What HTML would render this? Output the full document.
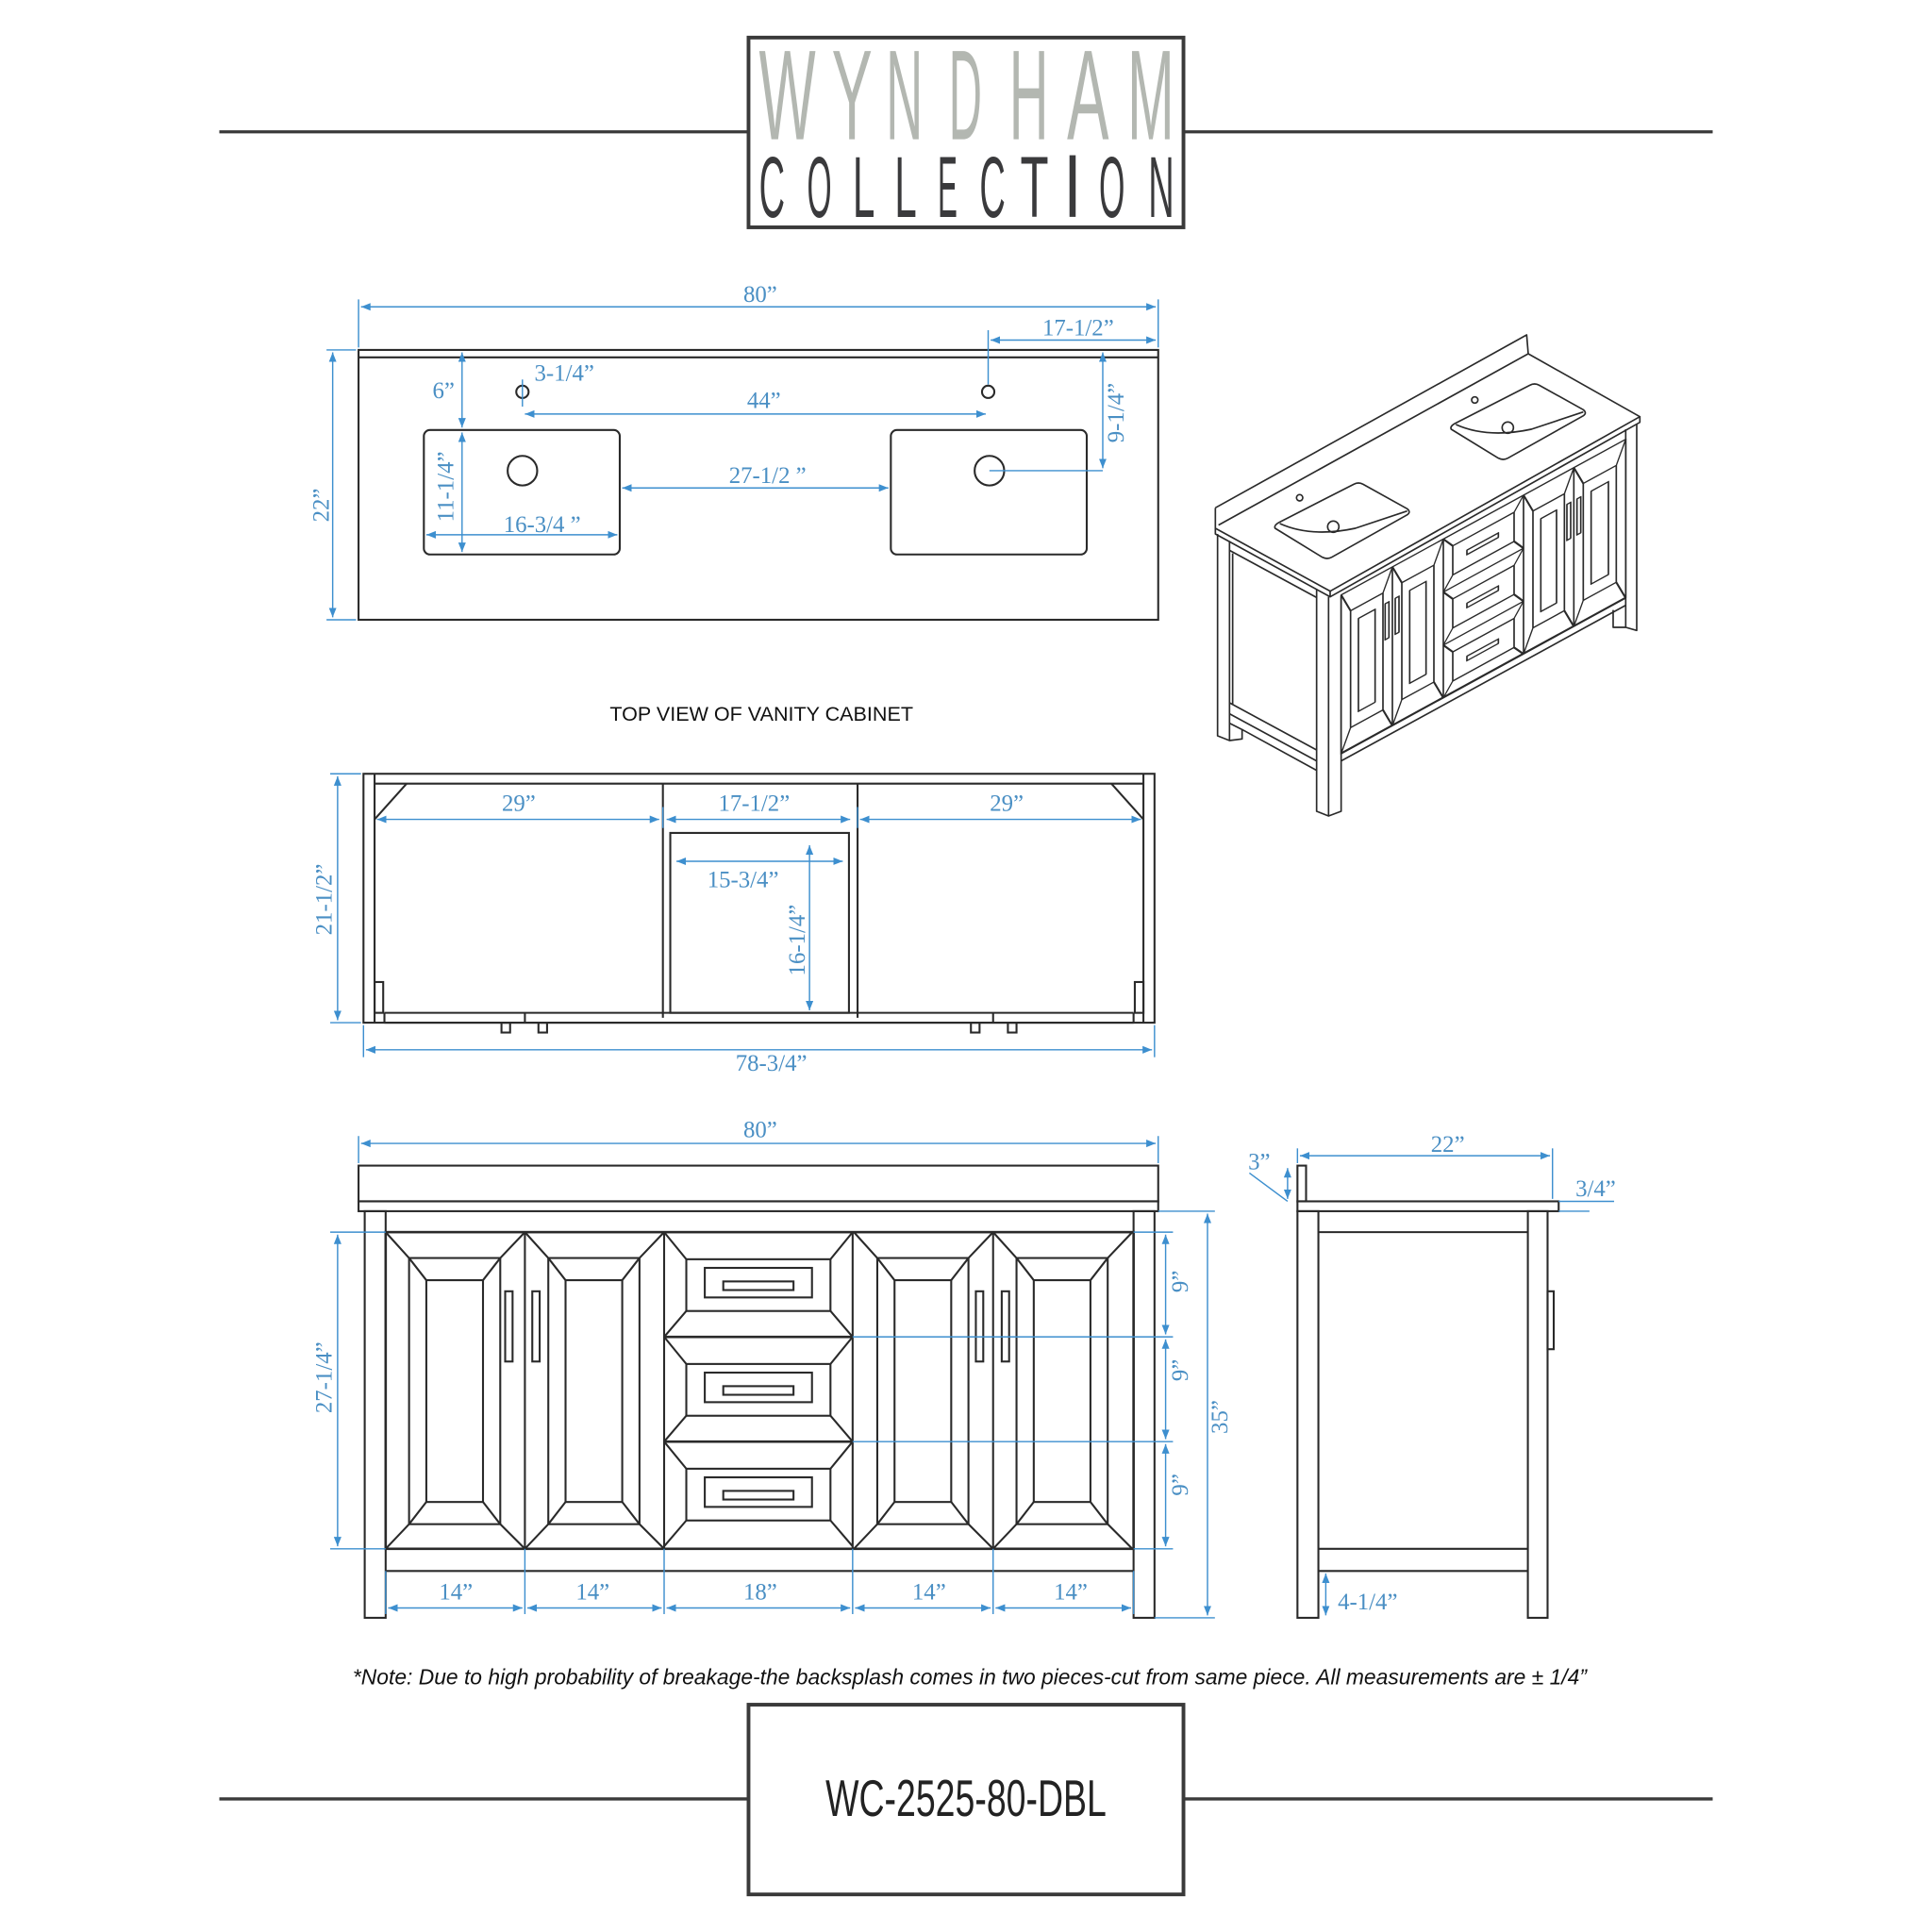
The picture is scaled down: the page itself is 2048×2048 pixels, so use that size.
<!DOCTYPE html>
<html><head><meta charset="utf-8"><style>
html,body{margin:0;padding:0;background:#fff}
svg{display:block}
.k{fill:none;stroke:#2a2a2a;stroke-width:1.6}
.b{fill:none;stroke:#3d8fcf;stroke-width:1.1}
.t{font-family:"Liberation Serif",serif;font-size:19px;fill:#4a8fc4;text-anchor:middle}
.w{font-family:"Liberation Sans Narrow","Liberation Sans",sans-serif;font-size:104px;fill:#b3b7b1}
.c{font-family:"Liberation Sans Narrow","Liberation Sans",sans-serif;font-size:70px;fill:#3a3a3c}
</style></head><body>
<svg width="2048" height="2048" viewBox="0 0 1568 1568" xmlns="http://www.w3.org/2000/svg">
<defs>
<marker id="a" viewBox="0 0 10 10" refX="10" refY="5" markerWidth="7" markerHeight="7" orient="auto-start-reverse"><path d="M0,1 L10,5 L0,9 z" fill="#3d8fcf"/></marker>
</defs>
<rect width="1568" height="1568" fill="#fff"/>
<!-- header -->
<line x1="178" y1="107" x2="607" y2="107" stroke="#3a3a3a" stroke-width="2.5"/>
<line x1="961" y1="107" x2="1390" y2="107" stroke="#3a3a3a" stroke-width="2.5"/>
<rect x="607.5" y="30.5" width="353" height="154" fill="none" stroke="#3a3a3a" stroke-width="3"/>
<g class="w">
<text x="616" y="113" textLength="46" lengthAdjust="spacingAndGlyphs">W</text>
<text x="675" y="113" textLength="33" lengthAdjust="spacingAndGlyphs">Y</text>
<text x="719" y="113" textLength="30" lengthAdjust="spacingAndGlyphs">N</text>
<text x="770" y="113" textLength="27" lengthAdjust="spacingAndGlyphs">D</text>
<text x="819" y="113" textLength="32" lengthAdjust="spacingAndGlyphs">H</text>
<text x="866" y="113" textLength="34" lengthAdjust="spacingAndGlyphs">A</text>
<text x="915" y="113" textLength="38" lengthAdjust="spacingAndGlyphs">M</text>
</g>
<g class="c">
<text x="616" y="176" textLength="21" lengthAdjust="spacingAndGlyphs">C</text>
<text x="655" y="176" textLength="20" lengthAdjust="spacingAndGlyphs">O</text>
<text x="692" y="176" textLength="18" lengthAdjust="spacingAndGlyphs">L</text>
<text x="726" y="176" textLength="18" lengthAdjust="spacingAndGlyphs">L</text>
<text x="761" y="176" textLength="16" lengthAdjust="spacingAndGlyphs">E</text>
<text x="795" y="176" textLength="21" lengthAdjust="spacingAndGlyphs">C</text>
<text x="828" y="176" textLength="23" lengthAdjust="spacingAndGlyphs">T</text>
<rect x="868" y="126" width="5" height="50" fill="#3a3a3c"/>
<text x="892" y="176" textLength="21" lengthAdjust="spacingAndGlyphs">O</text>
<text x="932" y="176" textLength="21" lengthAdjust="spacingAndGlyphs">N</text>
</g>

<!-- TOP VIEW -->
<rect x="291" y="284" width="649" height="219" class="k"/>
<line x1="291" y1="290" x2="940" y2="290" class="k" stroke-width="1"/>
<rect x="344" y="349" width="159" height="101" rx="5" class="k"/>
<rect x="723" y="349" width="159" height="101" rx="5" class="k"/>
<circle cx="424" cy="382" r="12" class="k"/><circle cx="803" cy="382" r="12" class="k"/>
<circle cx="424" cy="318" r="5" class="k"/><circle cx="802" cy="318" r="5" class="k"/>
<g class="b">
<line x1="291" y1="243" x2="291" y2="282"/><line x1="940" y1="243" x2="940" y2="282"/>
<line x1="293" y1="249" x2="938" y2="249" marker-start="url(#a)" marker-end="url(#a)"/>
<line x1="802" y1="268" x2="802" y2="312"/>
<line x1="804" y1="276" x2="938" y2="276" marker-start="url(#a)" marker-end="url(#a)"/>
<line x1="375" y1="286" x2="375" y2="347" marker-start="url(#a)" marker-end="url(#a)"/>
<line x1="424" y1="308" x2="424" y2="330"/>
<line x1="426" y1="336" x2="800" y2="336" marker-start="url(#a)" marker-end="url(#a)"/>
<line x1="895" y1="286" x2="895" y2="380" marker-start="url(#a)" marker-end="url(#a)"/>
<line x1="803" y1="382" x2="895" y2="382"/>
<line x1="265" y1="284" x2="289" y2="284"/><line x1="265" y1="503" x2="289" y2="503"/>
<line x1="270" y1="286" x2="270" y2="501" marker-start="url(#a)" marker-end="url(#a)"/>
<line x1="375" y1="351" x2="375" y2="448" marker-start="url(#a)" marker-end="url(#a)"/>
<line x1="346" y1="434" x2="501" y2="434" marker-start="url(#a)" marker-end="url(#a)"/>
<line x1="505" y1="396" x2="721" y2="396" marker-start="url(#a)" marker-end="url(#a)"/>
</g>
<text class="t" x="617" y="245">80”</text>
<text class="t" x="875" y="272">17-1/2”</text>
<text class="t" x="360" y="323">6”</text>
<text class="t" x="458" y="309">3-1/4”</text>
<text class="t" x="620" y="331">44”</text>
<text class="t" transform="translate(912,335) rotate(-90)">9-1/4”</text>
<text class="t" transform="translate(267,410) rotate(-90)">22”</text>
<text class="t" transform="translate(368,395) rotate(-90)">11-1/4”</text>
<text class="t" x="440" y="432">16-3/4 ”</text>
<text class="t" x="623" y="392">27-1/2 ”</text>
<text x="618" y="585" font-family="Liberation Sans,sans-serif" font-size="16.5" text-anchor="middle" fill="#111">TOP VIEW OF VANITY CABINET</text>

<!-- INTERIOR VIEW -->
<g class="k">
<rect x="295" y="628" width="642" height="202"/>
<line x1="304" y1="628" x2="304" y2="830"/><line x1="928" y1="628" x2="928" y2="830"/>
<line x1="304" y1="636" x2="928" y2="636"/>
<line x1="304" y1="665" x2="330" y2="636"/><line x1="928" y1="665" x2="902" y2="636"/>
<line x1="538" y1="636" x2="538" y2="826"/><line x1="696" y1="636" x2="696" y2="826"/>
<rect x="544" y="676" width="145" height="146"/>
<line x1="312" y1="822" x2="920" y2="822"/>
<line x1="312" y1="830" x2="920" y2="830"/>
<line x1="312" y1="822" x2="312" y2="830"/><line x1="920" y1="822" x2="920" y2="830"/>
<rect x="304" y="797" width="7" height="25"/><rect x="921" y="797" width="7" height="25"/>
<rect x="407" y="830" width="7" height="8"/><rect x="437" y="830" width="7" height="8"/>
<rect x="788" y="830" width="7" height="8"/><rect x="818" y="830" width="7" height="8"/>
<line x1="426" y1="822" x2="426" y2="830"/><line x1="806" y1="822" x2="806" y2="830"/>
</g>
<g class="b">
<line x1="306" y1="665" x2="535" y2="665" marker-start="url(#a)" marker-end="url(#a)"/>
<line x1="541" y1="665" x2="690" y2="665" marker-start="url(#a)" marker-end="url(#a)"/>
<line x1="698" y1="665" x2="926" y2="665" marker-start="url(#a)" marker-end="url(#a)"/>
<line x1="538" y1="655" x2="538" y2="672"/><line x1="696" y1="655" x2="696" y2="672"/>
<line x1="549" y1="699" x2="684" y2="699" marker-start="url(#a)" marker-end="url(#a)"/>
<line x1="657" y1="686" x2="657" y2="820" marker-start="url(#a)" marker-end="url(#a)"/>
<line x1="268" y1="628" x2="293" y2="628"/><line x1="268" y1="830" x2="293" y2="830"/>
<line x1="274" y1="630" x2="274" y2="828" marker-start="url(#a)" marker-end="url(#a)"/>
<line x1="295" y1="832" x2="295" y2="858"/><line x1="937" y1="832" x2="937" y2="858"/>
<line x1="297" y1="852" x2="935" y2="852" marker-start="url(#a)" marker-end="url(#a)"/>
</g>
<text class="t" x="421" y="658">29”</text>
<text class="t" x="612" y="658">17-1/2”</text>
<text class="t" x="817" y="658">29”</text>
<text class="t" x="603" y="720">15-3/4”</text>
<text class="t" transform="translate(653,763) rotate(-90)">16-1/4”</text>
<text class="t" transform="translate(269,730) rotate(-90)">21-1/2”</text>
<text class="t" x="626" y="869">78-3/4”</text>

<!-- FRONT VIEW -->
<g class="k">
<rect x="291" y="946" width="649" height="29"/>
<rect x="291" y="975" width="649" height="8"/>
<rect x="296" y="983" width="17" height="330"/>
<rect x="920" y="983" width="17" height="330"/>
<line x1="313" y1="1275" x2="920" y2="1275"/>
<rect x="313" y="1000" width="607" height="257" stroke-width="2"/>
<line x1="426" y1="1000" x2="426" y2="1257"/><line x1="539" y1="1000" x2="539" y2="1257"/>
<line x1="692" y1="1000" x2="692" y2="1257"/><line x1="806" y1="1000" x2="806" y2="1257"/>
<line x1="539" y1="1085" x2="692" y2="1085" stroke-width="2"/><line x1="539" y1="1170" x2="692" y2="1170" stroke-width="2"/>
</g>
<g class="k" stroke-width="1.3">
<g id="door">
<rect x="332" y="1021" width="74" height="216"/><rect x="346" y="1039" width="46" height="180"/>
<path d="M313,1000 L332,1021 M426,1000 L406,1021 M313,1257 L332,1237 M426,1257 L406,1237 M332,1021 L346,1039 M406,1021 L392,1039 M332,1237 L346,1219 M406,1237 L392,1219"/>
</g>
<use href="#door" x="113"/>
<use href="#door" x="380"/>
<use href="#door" x="493"/>
<rect x="410" y="1048" width="6" height="57"/><rect x="432" y="1048" width="6" height="57"/>
<rect x="792" y="1048" width="6" height="57"/><rect x="813" y="1048" width="6" height="57"/>
<g id="drw">
<rect x="557" y="1022" width="117" height="42"/>
<rect x="572" y="1029" width="87" height="24"/><rect x="587" y="1040" width="57" height="7"/>
<path d="M539,1000 L557,1022 M692,1000 L674,1022 M539,1085 L557,1064 M692,1085 L674,1064"/>
</g>
<use href="#drw" y="85"/>
<use href="#drw" y="170"/>
</g>
<g class="b">
<line x1="291" y1="922" x2="291" y2="944"/><line x1="940" y1="922" x2="940" y2="944"/>
<line x1="293" y1="928" x2="938" y2="928" marker-start="url(#a)" marker-end="url(#a)"/>
<line x1="268" y1="1000" x2="313" y2="1000"/><line x1="268" y1="1257" x2="313" y2="1257"/>
<line x1="274" y1="1002" x2="274" y2="1255" marker-start="url(#a)" marker-end="url(#a)"/>
<line x1="692" y1="1085" x2="952" y2="1085"/><line x1="692" y1="1170" x2="952" y2="1170"/>
<line x1="920" y1="1000" x2="952" y2="1000"/><line x1="920" y1="1257" x2="952" y2="1257"/>
<line x1="940" y1="983" x2="986" y2="983"/><line x1="937" y1="1313" x2="986" y2="1313"/>
<line x1="946" y1="1002" x2="946" y2="1083" marker-start="url(#a)" marker-end="url(#a)"/>
<line x1="946" y1="1087" x2="946" y2="1168" marker-start="url(#a)" marker-end="url(#a)"/>
<line x1="946" y1="1172" x2="946" y2="1255" marker-start="url(#a)" marker-end="url(#a)"/>
<line x1="980" y1="985" x2="980" y2="1311" marker-start="url(#a)" marker-end="url(#a)"/>
<line x1="313" y1="1275" x2="313" y2="1310"/><line x1="426" y1="1257" x2="426" y2="1310"/>
<line x1="539" y1="1257" x2="539" y2="1310"/><line x1="692" y1="1257" x2="692" y2="1310"/>
<line x1="806" y1="1257" x2="806" y2="1310"/><line x1="920" y1="1275" x2="920" y2="1310"/>
<line x1="315" y1="1305" x2="424" y2="1305" marker-start="url(#a)" marker-end="url(#a)"/>
<line x1="428" y1="1305" x2="537" y2="1305" marker-start="url(#a)" marker-end="url(#a)"/>
<line x1="541" y1="1305" x2="690" y2="1305" marker-start="url(#a)" marker-end="url(#a)"/>
<line x1="694" y1="1305" x2="804" y2="1305" marker-start="url(#a)" marker-end="url(#a)"/>
<line x1="808" y1="1305" x2="918" y2="1305" marker-start="url(#a)" marker-end="url(#a)"/>
</g>
<text class="t" x="617" y="923">80”</text>
<text class="t" transform="translate(269,1118) rotate(-90)">27-1/4”</text>
<text class="t" transform="translate(964,1040) rotate(-90)">9”</text>
<text class="t" transform="translate(964,1112) rotate(-90)">9”</text>
<text class="t" transform="translate(964,1205) rotate(-90)">9”</text>
<text class="t" transform="translate(996,1150) rotate(-90)">35”</text>
<text class="t" x="370" y="1298">14”</text>
<text class="t" x="481" y="1298">14”</text>
<text class="t" x="617" y="1298">18”</text>
<text class="t" x="754" y="1298">14”</text>
<text class="t" x="869" y="1298">14”</text>

<!-- SIDE VIEW -->
<g class="k">
<rect x="1053" y="946" width="7" height="29"/>
<rect x="1053" y="975" width="212" height="8"/>
<rect x="1053" y="983" width="17" height="330"/>
<rect x="1240" y="983" width="16" height="330"/>
<line x1="1070" y1="1000" x2="1240" y2="1000"/>
<line x1="1070" y1="1257" x2="1240" y2="1257"/>
<line x1="1070" y1="1275" x2="1240" y2="1275"/>
<rect x="1256" y="1048" width="5" height="47"/>
</g>
<g class="b">
<line x1="1053" y1="932" x2="1053" y2="944"/><line x1="1260" y1="932" x2="1260" y2="973"/>
<line x1="1055" y1="938" x2="1258" y2="938" marker-start="url(#a)" marker-end="url(#a)"/>
<line x1="1045" y1="948" x2="1045" y2="973" marker-start="url(#a)" marker-end="url(#a)"/>
<line x1="1014" y1="952" x2="1045" y2="975"/>
<line x1="1265" y1="975" x2="1310" y2="975"/><line x1="1265" y1="983" x2="1290" y2="983"/>
<line x1="1076" y1="1277" x2="1076" y2="1311" marker-start="url(#a)" marker-end="url(#a)"/>
</g>
<text class="t" x="1175" y="935">22”</text>
<text class="t" x="1022" y="949">3”</text>
<text class="t" x="1295" y="971">3/4”</text>
<text class="t" x="1110" y="1306">4-1/4”</text>

<!-- ISOMETRIC -->
<g transform="scale(0.765625) translate(1250,340) scale(0.33333)" fill="none" stroke="#2a2a2a" stroke-width="5" stroke-linejoin="round">
<path d="M115,595 L1105,45 L1110,105 M115,595 L115,660 L480,860 L1465,305 L1110,105 M125,650 L1110,105"/>
<path d="M115,660 L115,678 L480,878 L1465,323 L1465,305 M480,860 L480,878"/>
<path d="M305,660 Q300,650 320,640 L555,520 Q570,512 585,520 L725,598 Q740,610 720,620 L485,752 Q470,760 455,752 Z"/>
<path d="M865,345 Q860,335 880,325 L1115,205 Q1130,197 1145,205 L1285,283 Q1300,295 1280,305 L1045,437 Q1030,445 1015,437 Z"/>
<path d="M320,645 Q420,690 560,660 L725,605 M880,330 Q980,375 1120,345 L1285,290"/>
<circle cx="490" cy="655" r="18"/><circle cx="1045" cy="340" r="18"/>
<circle cx="383" cy="563" r="10"/><circle cx="940" cy="252" r="10"/>
<path d="M122,678 L122,1320 L160,1335 L160,1280 L200,1300 L200,1330 L160,1335 M160,700 L160,1280"/>
<path d="M437,855 L437,1560 L475,1575 L515,1560 L515,875 M475,878 L475,1575"/>
<path d="M160,730 L437,880 M160,1215 L437,1365 M160,1250 L437,1400 M170,740 L170,1220 M200,1300 L437,1430"/>
<path d="M1420,345 L1420,975 L1455,985 L1455,330 M1380,920 L1380,975 L1420,975"/>
<path d="M515,1400 L1420,905 M515,1375 L1420,880"/>
<g transform="matrix(1,-0.547,0,0.953,515,872)">
<g stroke-width="5">
<rect x="0" y="0" width="905" height="530"/>
<path d="M163,0 V530 M325,0 V530 M580,0 V530 M740,0 V530 M325,177 H580 M325,354 H580"/>
<path d="M30,70 H133 V460 H30 Z M55,110 H108 V420 H55 Z M0,0 L30,70 M163,0 L133,70 M0,530 L30,460 M163,530 L133,460"/>
<path d="M193,70 H295 V460 H193 Z M218,110 H270 V420 H218 Z M163,0 L193,70 M325,0 L295,70 M163,530 L193,460 M325,530 L295,460"/>
<path d="M610,70 H710 V460 H610 Z M635,110 H685 V420 H635 Z M580,0 L610,70 M740,0 L710,70 M580,530 L610,460 M740,530 L710,460"/>
<path d="M770,70 H875 V460 H770 Z M795,110 H850 V420 H795 Z M740,0 L770,70 M905,0 L875,70 M740,530 L770,460 M905,530 L875,460"/>
<path d="M355,40 H550 V137 H355 Z M325,0 L355,40 M580,0 L550,40 M325,177 L355,137 M580,177 L550,137 M400,80 H500 V95 H400 Z"/>
<path d="M355,217 H550 V314 H355 Z M325,177 L355,217 M580,177 L550,217 M325,354 L355,314 M580,354 L550,314 M400,257 H500 V272 H400 Z"/>
<path d="M355,394 H550 V491 H355 Z M325,354 L355,394 M580,354 L550,394 M325,530 L355,491 M580,530 L550,491 M400,434 H500 V449 H400 Z"/>
<rect x="140" y="110" width="12" height="120"/><rect x="172" y="110" width="12" height="120"/>
<rect x="718" y="110" width="12" height="120"/><rect x="750" y="110" width="12" height="120"/>
</g>
</g>
</g>

<!-- note -->
<text x="787" y="1367" font-family="Liberation Sans,sans-serif" font-style="italic" font-size="17.5" text-anchor="middle" fill="#111">*Note: Due to high probability of breakage-the backsplash comes in two pieces-cut from same piece.  All measurements are  ± 1/4”</text>
<!-- footer -->
<line x1="178" y1="1460" x2="607" y2="1460" stroke="#3a3a3a" stroke-width="2.5"/>
<line x1="961" y1="1460" x2="1390" y2="1460" stroke="#3a3a3a" stroke-width="2.5"/>
<rect x="607.5" y="1383.5" width="353" height="154" fill="none" stroke="#3a3a3a" stroke-width="3"/>
<text x="784" y="1474" font-family="Liberation Sans Narrow,Liberation Sans,sans-serif" font-size="42" fill="#222" text-anchor="middle" textLength="228" lengthAdjust="spacingAndGlyphs">WC-2525-80-DBL</text>
</svg>
</body></html>
